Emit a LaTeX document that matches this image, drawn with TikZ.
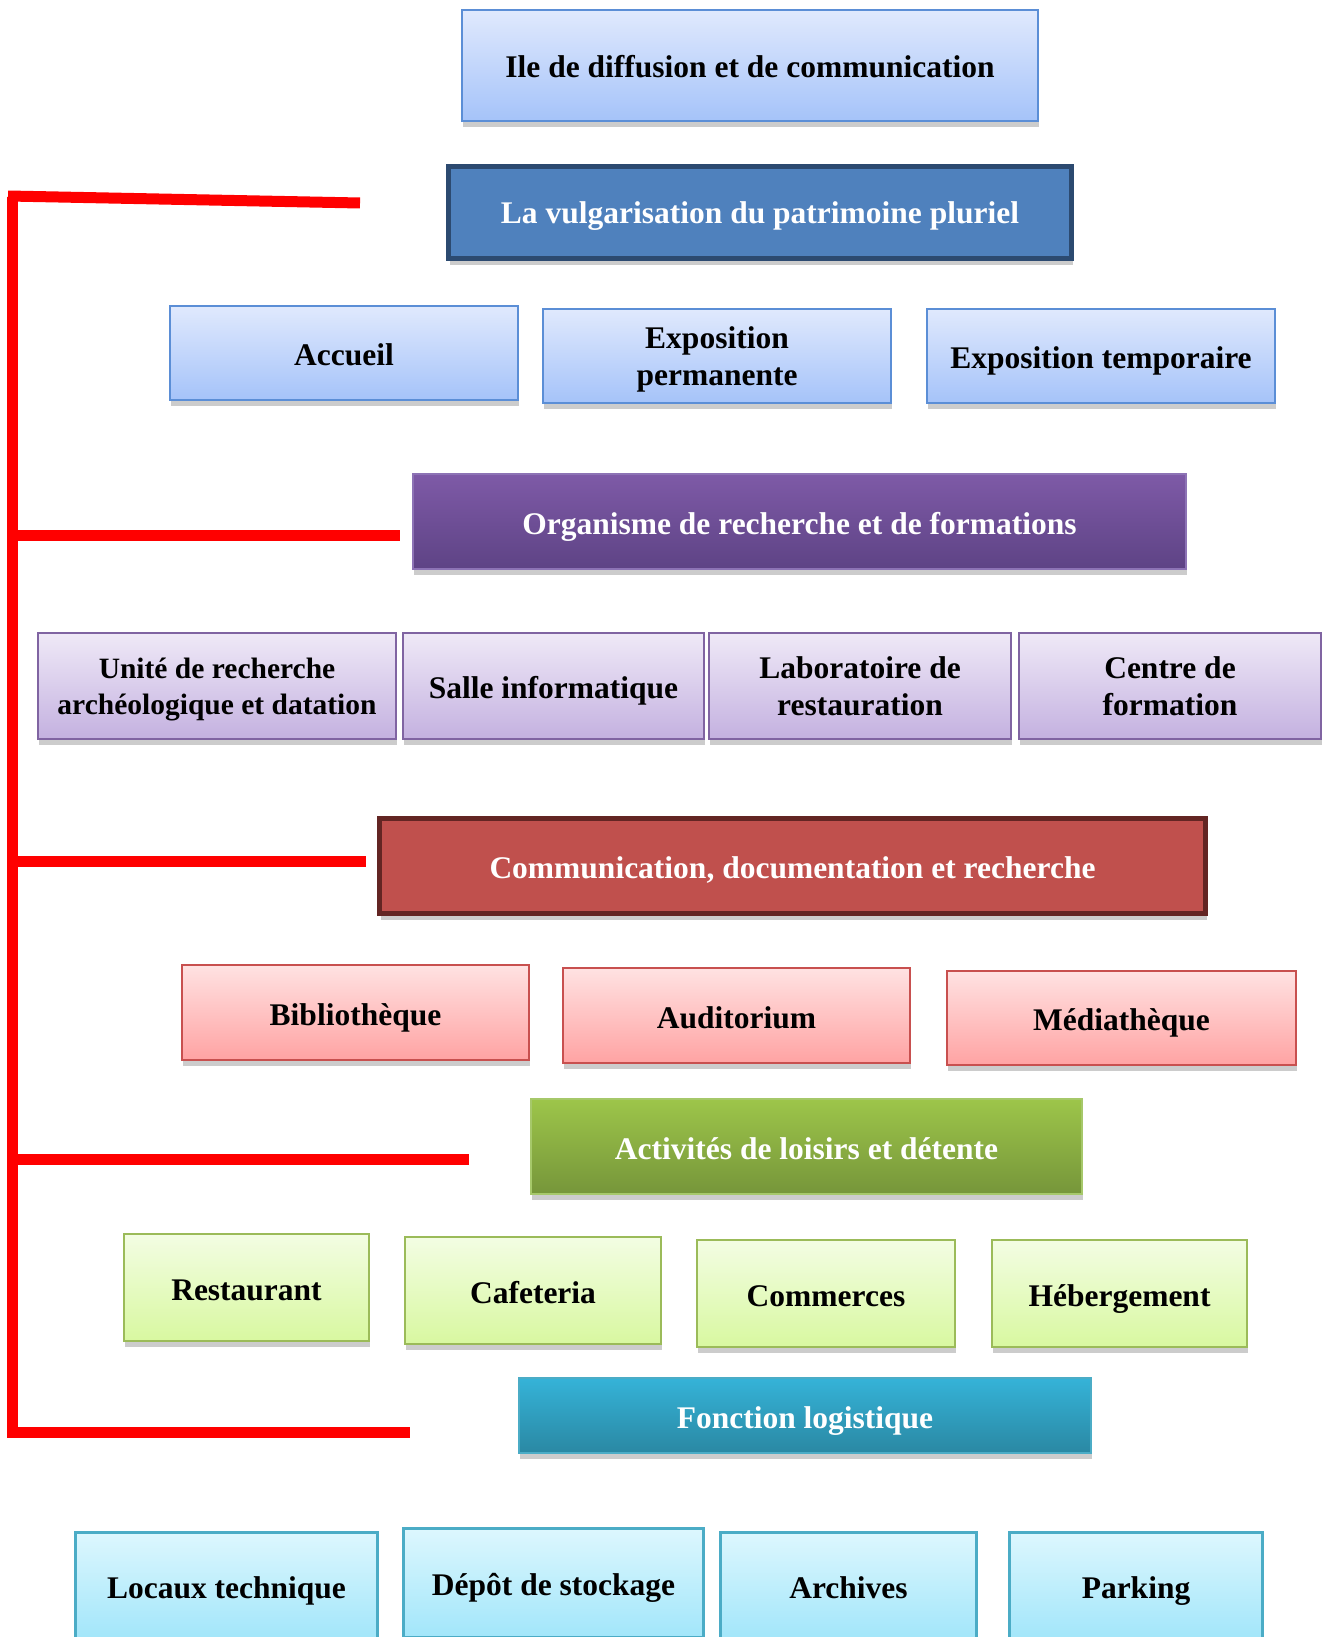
\documentclass[tikz,border=0pt]{standalone}
\usepackage{fontspec}
\setmainfont{Liberation Serif}
\usetikzlibrary{shadows}
\definecolor{bluetop}{HTML}{E0E9FD}
\definecolor{bluebot}{HTML}{A5C3F9}
\definecolor{bluebd}{HTML}{5B8ED6}
\definecolor{vulgfill}{HTML}{4F81BD}
\definecolor{vulgbd}{HTML}{2C4A70}
\definecolor{purtop}{HTML}{7E5AA7}
\definecolor{purbot}{HTML}{5E4385}
\definecolor{purbd}{HTML}{8D73B5}
\definecolor{plltop}{HTML}{EFE9F7}
\definecolor{pllbot}{HTML}{C4B1E0}
\definecolor{pllbd}{HTML}{8064A2}
\definecolor{redfill}{HTML}{C0504D}
\definecolor{redbd}{HTML}{632523}
\definecolor{pinktop}{HTML}{FFE2E2}
\definecolor{pinkbot}{HTML}{FFA3A3}
\definecolor{pinkbd}{HTML}{C8504F}
\definecolor{grntop}{HTML}{9DC54A}
\definecolor{grnbot}{HTML}{76963A}
\definecolor{grnbd}{HTML}{A6C86A}
\definecolor{gltop}{HTML}{F3FDE3}
\definecolor{glbot}{HTML}{D8F8A0}
\definecolor{glbd}{HTML}{9BBB59}
\definecolor{cyntop}{HTML}{35B3D8}
\definecolor{cynbot}{HTML}{2A88A3}
\definecolor{cynbd}{HTML}{4BACC6}
\definecolor{cltop}{HTML}{DDF7FE}
\definecolor{clbot}{HTML}{A2E6FA}
\definecolor{clbd}{HTML}{4BACC6}
\definecolor{spinered}{HTML}{FF0000}
\tikzset{
  basebox/.style={rectangle, inner sep=0pt, outer sep=0pt, align=center,
    font=\bfseries\fontsize{31.5}{37}\selectfont,
    text height=25pt, text depth=0pt,
    drop shadow={shadow xshift=1pt, shadow yshift=-6pt, fill=black, opacity=0.2}},
  twoline/.style={text height=58pt, text depth=0pt},
  bluebox/.style={basebox, draw=bluebd, line width=2.5pt, top color=bluetop, bottom color=bluebot, text=black},
  vulgbox/.style={basebox, draw=vulgbd, line width=5pt, fill=vulgfill, text=white},
  purhead/.style={basebox, draw=purbd, line width=2pt, top color=purtop, bottom color=purbot, text=white},
  purbox/.style={basebox, draw=pllbd, line width=2.5pt, top color=plltop, bottom color=pllbot, text=black},
  redhead/.style={basebox, draw=redbd, line width=5pt, fill=redfill, text=white},
  pinkbox/.style={basebox, draw=pinkbd, line width=2.5pt, top color=pinktop, bottom color=pinkbot, text=black},
  grnhead/.style={basebox, draw=grnbd, line width=2pt, top color=grntop, bottom color=grnbot, text=white},
  grnbox/.style={basebox, draw=glbd, line width=2.5pt, top color=gltop, bottom color=glbot, text=black},
  cynhead/.style={basebox, draw=cynbd, line width=2pt, top color=cyntop, bottom color=cynbot, text=white},
  cynbox/.style={basebox, draw=clbd, line width=3pt, top color=cltop, bottom color=clbot, text=black},
  redline/.style={draw=spinered, line width=11pt, line cap=butt}
}
\begin{document}
\begin{tikzpicture}[x=1pt,y=-1pt]
\useasboundingbox (0,0) rectangle (1330,1637);
\fill[white] (0,0) rectangle (1330,1637);

% spine and branches
\coordinate (spt) at (12.5,197);
\coordinate (spb) at (12.5,1438);
\coordinate (b1s) at (8,196);
\coordinate (b1e) at (360,203);
\coordinate (b2s) at (8,535);
\coordinate (b2e) at (400,535);
\coordinate (b3s) at (8,861);
\coordinate (b3e) at (366,861);
\coordinate (b4s) at (8,1159);
\coordinate (b4e) at (469,1159);
\coordinate (b5s) at (8,1432);
\coordinate (b5e) at (410,1432);
\draw[redline] (spt) -- (spb);
\draw[redline] (b1s) -- (b1e);
\draw[redline] (b2s) -- (b2e);
\draw[redline] (b3s) -- (b3e);
\draw[redline] (b4s) -- (b4e);
\draw[redline] (b5s) -- (b5e);

% top
\node[bluebox, minimum width=576, minimum height=111] (ile) at (750,65.5) {Ile de diffusion et de communication};
\node[vulgbox, minimum width=623, minimum height=92, text height=22pt] (vulg) at (760,212.5) {La vulgarisation du patrimoine pluriel};
\node[bluebox, minimum width=348, minimum height=94] (accueil) at (344,353) {Accueil};
\node[bluebox, twoline, minimum width=348, minimum height=94] (expperm) at (717,356) {Exposition\\permanente};
\node[bluebox, minimum width=348, minimum height=94] (exptemp) at (1101,356) {Exposition temporaire};

% organisme
\node[purhead, minimum width=773, minimum height=95] (org) at (799.5,521.5) {Organisme de recherche et de formations};
\node[purbox, twoline, minimum width=358, minimum height=106, font=\bfseries\fontsize{29.5}{36}\selectfont, text height=57pt] (unite) at (217,686) {Unité de recherche\\archéologique et datation};
\node[purbox, minimum width=301, minimum height=106] (salle) at (553.5,686) {Salle informatique};
\node[purbox, twoline, minimum width=302, minimum height=106] (labo) at (860,686) {Laboratoire de\\restauration};
\node[purbox, twoline, minimum width=302, minimum height=106] (centre) at (1170,686) {Centre de\\formation};

% communication
\node[redhead, minimum width=826, minimum height=95] (comm) at (792.5,866) {Communication, documentation et recherche};
\node[pinkbox, minimum width=347, minimum height=95] (biblio) at (355.5,1012.5) {Bibliothèque};
\node[pinkbox, minimum width=347, minimum height=95] (audit) at (736.5,1015.5) {Auditorium};
\node[pinkbox, minimum width=349, minimum height=94] (media) at (1121.5,1018) {Médiathèque};

% activites
\node[grnhead, minimum width=551, minimum height=95] (activ) at (806.5,1146.5) {Activités de loisirs et détente};
\node[grnbox, minimum width=245, minimum height=107] (resto) at (246.5,1287.5) {Restaurant};
\node[grnbox, minimum width=256, minimum height=107] (cafe) at (533,1290.5) {Cafeteria};
\node[grnbox, minimum width=258, minimum height=107] (commerces) at (826,1293.5) {Commerces};
\node[grnbox, minimum width=255, minimum height=107] (heberg) at (1119.5,1293.5) {Hébergement};

% logistique
\node[cynhead, minimum width=572, minimum height=75] (fonction) at (805,1415.5) {Fonction logistique};
\node[cynbox, minimum width=302, minimum height=107] (locaux) at (226.5,1585.5) {Locaux technique};
\node[cynbox, minimum width=300, minimum height=109] (depot) at (553.5,1582.5) {Dépôt de stockage};
\node[cynbox, minimum width=256, minimum height=107] (archives) at (848.5,1585.5) {Archives};
\node[cynbox, minimum width=253, minimum height=107] (parking) at (1136,1585.5) {Parking};
\end{tikzpicture}
\end{document}
